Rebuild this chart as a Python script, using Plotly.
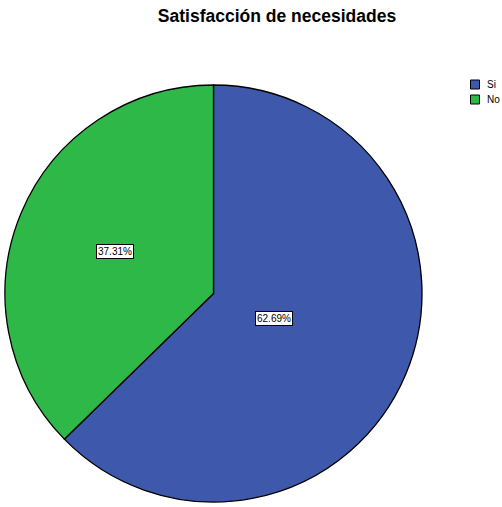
import math
import plotly.graph_objects as go

# Data
labels = ["Si", "No"]
values = [62.69, 37.31]
colors = ["#3E58AC", "#2EB848"]

W, H = 502, 507
FONT = "Liberation Sans, Arial, sans-serif"
cx, cy, R = 213.5, 293.5, 208.5  # pie centre and radius in pixels

fig = go.Figure(go.Pie(
    labels=labels,
    values=values,
    sort=False,
    direction="clockwise",
    rotation=0,
    marker=dict(colors=colors, line=dict(color="black", width=1.3)),
    textinfo="none",
    hoverinfo="label+percent",
    showlegend=False,
    domain=dict(x=[(cx - R) / W, (cx + R) / W], y=[1 - (cy + R) / H, 1 - (cy - R) / H]),
))

# boxed percentage labels placed along each slice's bisector
radial_frac = [0.315, 0.513]
total = sum(values)
cum = 0.0
for v, f in zip(values, radial_frac):
    mid = (cum + v / 2) / total * 2 * math.pi
    cum += v
    px = cx + f * R * math.sin(mid)
    py = cy - 0.5 - f * R * math.cos(mid)
    fig.add_annotation(
        x=px / W, y=1 - py / H, xref="paper", yref="paper",
        xanchor="center", yanchor="middle",
        text=f"{v / total * 100:.2f}%", showarrow=False,
        font=dict(family=FONT, size=10, color="black"),
        bgcolor="white", bordercolor="black", borderwidth=1, borderpad=1,
    )

# legend: small bordered squares with labels
for i, (lab, col) in enumerate(zip(labels, colors)):
    yc = 84.5 + 15 * i
    fig.add_shape(
        type="rect", xref="paper", yref="paper",
        x0=470.5 / W, x1=479.5 / W, y0=1 - (yc + 4.5) / H, y1=1 - (yc - 4.5) / H,
        fillcolor=col, line=dict(color="black", width=1),
    )
    fig.add_annotation(
        x=485 / W, y=1 - yc / H, xref="paper", yref="paper",
        xanchor="left", yanchor="middle", text=lab, showarrow=False,
        font=dict(family=FONT, size=10, color="black"),
    )

fig.update_layout(
    width=W, height=H,
    margin=dict(l=0, r=0, t=0, b=0),
    paper_bgcolor="white",
    title=dict(
        text="<b>Satisfacción de necesidades</b>",
        x=277 / W, xanchor="center", y=1 - 16 / H, yanchor="middle",
        font=dict(family=FONT, size=17.5, color="black"),
    ),
)

fig.write_html("out.html")
